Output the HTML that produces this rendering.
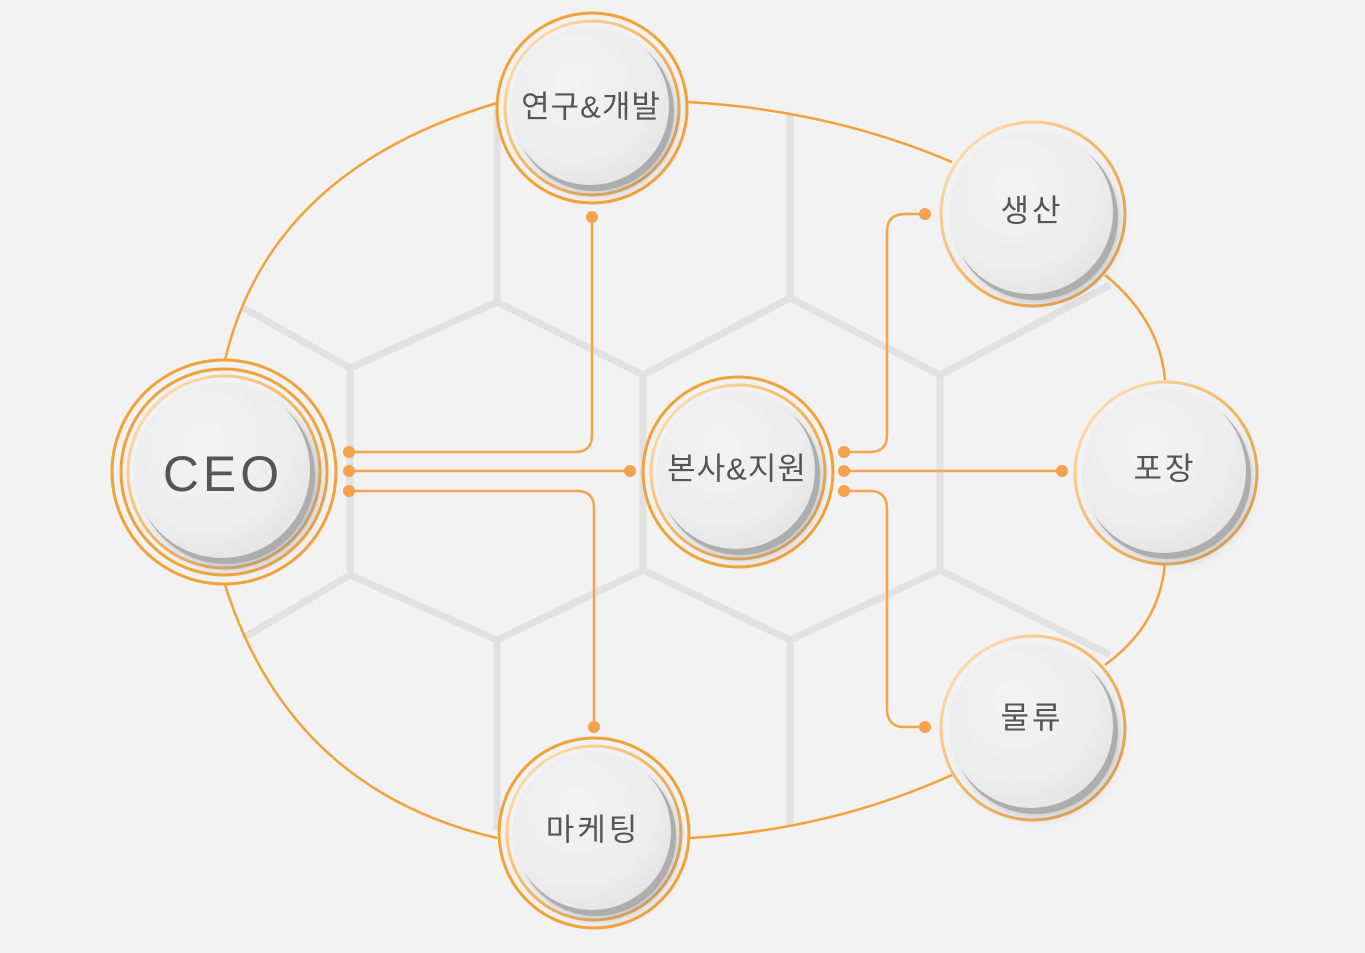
<!DOCTYPE html>
<html><head><meta charset="utf-8"><style>
html,body{margin:0;padding:0;background:#f1f2f1;}
svg{display:block}
text{font-family:"Liberation Sans","Noto Sans CJK KR",sans-serif;fill:#555;text-anchor:middle;dominant-baseline:central}
</style></head><body>
<svg width="1365" height="953" viewBox="0 0 1365 953" xmlns="http://www.w3.org/2000/svg">
<defs>
<radialGradient id="btn" cx="40%" cy="35%" r="70%">
<stop offset="0" stop-color="#f3f3f3"/><stop offset="0.7" stop-color="#ededed"/><stop offset="1" stop-color="#e4e4e4"/>
</radialGradient>
<linearGradient id="inr" x1="0" y1="0" x2="1" y2="1">
<stop offset="0" stop-color="#ffe6c4"/><stop offset="0.5" stop-color="#f5b460"/><stop offset="1" stop-color="#e29a3a"/>
</linearGradient>
<filter id="sh" x="-30%" y="-30%" width="160%" height="160%"><feGaussianBlur stdDeviation="5"/></filter>
</defs>
<rect width="1365" height="953" fill="#f1f2f1"/>
<g stroke="#e0e1e0" stroke-width="7" fill="none" stroke-linejoin="round">
<path d="M497 110V302L350 368L242 307"/>
<path d="M497 302L643 375L790 298V115"/>
<path d="M790 298L940 375L1110 285"/>
<path d="M350 368V575L243 638"/>
<path d="M643 375V570"/><path d="M940 375V570"/>
<path d="M350 575L497 640L643 570L790 640L940 570L1110 655"/>
<path d="M497 640V830"/><path d="M790 640V825"/>
</g>
<g stroke="#f3a23a" stroke-width="2.5" fill="none">
<path d="M497 103Q270 170 225 360"/>
<path d="M688 102Q830 110 952 162"/>
<path d="M1105 275Q1160 320 1165 380"/>
<path d="M1165 563Q1160 625 1105 665"/>
<path d="M952 775Q830 830 690 838"/>
<path d="M497 838Q290 790 225 585"/>
</g>
<g stroke="#f5a54c" stroke-width="2.5" fill="none">
<path d="M349 452H575Q592 452 592 435V217"/>
<path d="M349 471H630"/>
<path d="M349 491H577Q594 491 594 508V727"/>
<path d="M844 452H870Q887 452 887 435V232Q887 214 905 214H925"/>
<path d="M844 471H1062"/>
<path d="M844 491H870Q887 491 887 509V709Q887 727 905 727H925"/>
</g>
<g fill="#f4a24e">
<circle cx="349" cy="452" r="6"/><circle cx="349" cy="471" r="6"/><circle cx="349" cy="491" r="6"/>
<circle cx="844" cy="452" r="6"/><circle cx="844" cy="471" r="6"/><circle cx="844" cy="491" r="6"/>
<circle cx="592" cy="217" r="6"/><circle cx="630" cy="471" r="6"/><circle cx="594" cy="727" r="6"/>
<circle cx="925" cy="214" r="6"/><circle cx="1062" cy="471" r="6"/><circle cx="925" cy="727" r="6"/>
</g>
<g>
<circle cx="224" cy="472" r="112" fill="#f1f2f1" stroke="#f3a23a" stroke-width="3"/>
<circle cx="224" cy="472" r="103" fill="none" stroke="#f3a23a" stroke-width="3"/>
<circle cx="224" cy="472" r="96" fill="none" stroke="url(#inr)" stroke-width="3"/>
<circle cx="232" cy="482" r="88" fill="#999" filter="url(#sh)" opacity="0.5"/>
<circle cx="226" cy="475" r="89" fill="#adadad"/>
<circle cx="222" cy="470" r="88" fill="url(#btn)"/>
<text x="223" y="474" font-size="50" letter-spacing="4" fill="#5a5a5a">CEO</text>
</g>
<g>
<circle cx="592" cy="108" r="95" fill="#f1f2f1" stroke="#f3a23a" stroke-width="3"/>
<circle cx="592" cy="108" r="87" fill="none" stroke="url(#inr)" stroke-width="3"/>
<circle cx="598" cy="117" r="78" fill="#999" filter="url(#sh)" opacity="0.5"/>
<circle cx="594" cy="111" r="80" fill="#adadad"/>
<circle cx="590" cy="106" r="79" fill="url(#btn)"/>
<text x="591" y="107" font-size="31" letter-spacing="1">연구&amp;개발</text>
</g>
<g>
<circle cx="738" cy="472" r="95" fill="#f1f2f1" stroke="#f3a23a" stroke-width="3"/>
<circle cx="738" cy="472" r="87" fill="none" stroke="url(#inr)" stroke-width="3"/>
<circle cx="744" cy="481" r="78" fill="#999" filter="url(#sh)" opacity="0.5"/>
<circle cx="740" cy="475" r="80" fill="#adadad"/>
<circle cx="736" cy="470" r="79" fill="url(#btn)"/>
<text x="737" y="469" font-size="31" letter-spacing="1">본사&amp;지원</text>
</g>
<g>
<circle cx="594" cy="833" r="95" fill="#f1f2f1" stroke="#f3a23a" stroke-width="3"/>
<circle cx="594" cy="833" r="87" fill="none" stroke="url(#inr)" stroke-width="3"/>
<circle cx="600" cy="842" r="78" fill="#999" filter="url(#sh)" opacity="0.5"/>
<circle cx="596" cy="836" r="80" fill="#adadad"/>
<circle cx="592" cy="831" r="79" fill="url(#btn)"/>
<text x="593" y="830" font-size="31" letter-spacing="3">마케팅</text>
</g>
<g>
<circle cx="1033" cy="214" r="92" fill="#f1f2f1" stroke="url(#inr)" stroke-width="3"/>
<circle cx="1039" cy="223" r="80" fill="#999" filter="url(#sh)" opacity="0.5"/>
<circle cx="1035" cy="217" r="83" fill="#adadad"/>
<circle cx="1031" cy="212" r="82" fill="url(#btn)"/>
<text x="1032" y="211" font-size="31" letter-spacing="3">생산</text>
</g>
<g>
<circle cx="1166" cy="473" r="91" fill="#f1f2f1" stroke="url(#inr)" stroke-width="3"/>
<circle cx="1172" cy="482" r="80" fill="#999" filter="url(#sh)" opacity="0.5"/>
<circle cx="1168" cy="476" r="83" fill="#adadad"/>
<circle cx="1164" cy="471" r="82" fill="url(#btn)"/>
<text x="1165" y="469" font-size="31" letter-spacing="3">포장</text>
</g>
<g>
<circle cx="1033" cy="728" r="92" fill="#f1f2f1" stroke="url(#inr)" stroke-width="3"/>
<circle cx="1039" cy="737" r="80" fill="#999" filter="url(#sh)" opacity="0.5"/>
<circle cx="1035" cy="731" r="83" fill="#adadad"/>
<circle cx="1031" cy="726" r="82" fill="url(#btn)"/>
<text x="1032" y="718" font-size="31" letter-spacing="3">물류</text>
</g>
</svg>
</body></html>
